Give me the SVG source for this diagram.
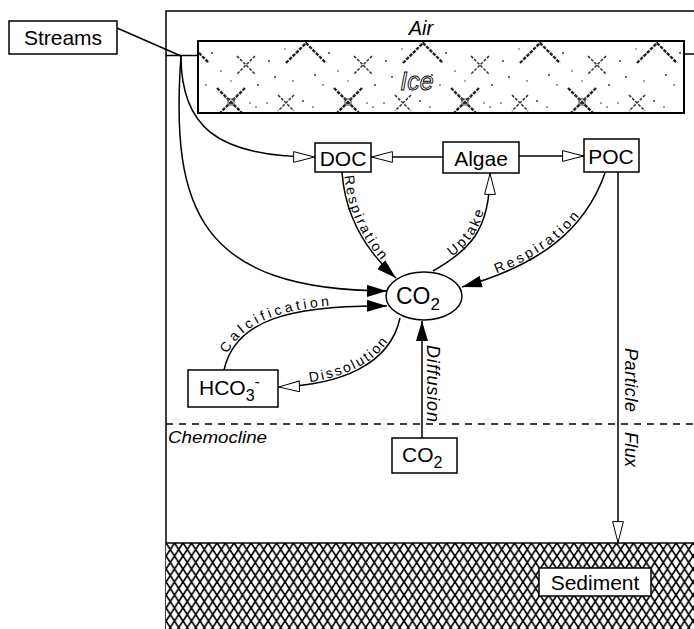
<svg xmlns="http://www.w3.org/2000/svg" width="694" height="629" viewBox="0 0 694 629">
<style>
.box{fill:#fff;stroke:#000;stroke-width:1.5}
.lbl{font-family:"Liberation Sans",Arial,sans-serif;font-size:21px;fill:#000}
.ital{font-family:"Liberation Sans",Arial,sans-serif;font-style:italic;fill:#000}
.ln{fill:none;stroke:#000;stroke-width:1.5}
.ptext{font-family:"Liberation Sans",Arial,sans-serif;font-size:14px;fill:#000}
.xm{stroke:#333;stroke-width:1.5;stroke-dasharray:3 1.4;fill:none}
.xb{stroke:#222;stroke-width:2.4;stroke-dasharray:3.5 1.2;fill:none}
</style>
<defs>
<marker id="filled" viewBox="0 0 20 12" refX="20" refY="6" markerWidth="20" markerHeight="12" markerUnits="userSpaceOnUse" orient="auto">
<path d="M0,0 L20,6 L0,12 Z" fill="#000"/>
</marker>
<marker id="open" viewBox="0 0 22 12" refX="22" refY="6" markerWidth="22" markerHeight="12" markerUnits="userSpaceOnUse" orient="auto">
<path d="M0.6,0.6 L21.4,6 L0.6,11.4 Z" fill="#fff" stroke="#000" stroke-width="1"/>
</marker>
<pattern id="hatch" x="166" y="543" width="8.5" height="13" patternUnits="userSpaceOnUse">
<rect width="8.5" height="13" fill="#fff"/>
<path d="M0,0 L8.5,13 M8.5,0 L0,13" stroke="#000" stroke-width="1.7"/>
</pattern>
<pattern id="ice" x="146" y="41" width="117" height="72" patternUnits="userSpaceOnUse">
<rect width="117" height="72" fill="#fff"/>
<path class="xm" d="M15,54 L31,70 M31,54 L15,70"/>
<path class="xb" d="M23,22 L43,2 L63,22"/>
<path class="xb" d="M71,47 L99,75 M99,47 L71,75"/>
<rect x="82" y="58" width="6" height="6" fill="none" stroke="#444" stroke-width="1"/>
<path class="xm" d="M91,15 L109,33 M109,15 L91,33"/>
<g fill="#222">
<circle cx="6" cy="20" r="0.9"/><circle cx="12" cy="36" r="0.9"/><circle cx="30" cy="40" r="0.8"/>
<circle cx="52" cy="34" r="0.9"/><circle cx="60" cy="44" r="0.8"/><circle cx="40" cy="60" r="0.9"/>
<circle cx="50" cy="66" r="0.8"/><circle cx="66" cy="12" r="0.9"/><circle cx="75" cy="30" r="0.8"/>
<circle cx="112" cy="44" r="0.9"/><circle cx="104" cy="62" r="0.8"/><circle cx="110" cy="66" r="0.8"/>
<circle cx="85" cy="40" r="0.7"/><circle cx="4" cy="62" r="0.8"/><circle cx="22" cy="8" r="0.7"/>
</g>
</pattern>
<path id="pDocResp" d="M342,172 C345,215 365,250 396,278"/>
<path id="pUptake" d="M433,271 C470,250 490,230 490,173"/>
<path id="pPocRespRev" d="M462,287 C540,265 585,230 605,173"/>
<path id="pCalc" d="M224,370 C235,320 290,305 387,306"/>
<path id="pDissRev" d="M278,387 C340,385 390,365 400,318"/>
</defs>
<rect width="694" height="629" fill="#fff"/>

<g id="environment">
<path d="M166,629 L166,11 L694,11" class="ln"/>
<path d="M166,55.5 L198,55.5 M684,54 L694,54" class="ln"/>
<rect x="198" y="41" width="486" height="72" fill="url(#ice)" stroke="#000" stroke-width="2"/>
<text x="421" y="35" class="ital" style="font-size:20px" text-anchor="middle">Air</text>
<text x="417" y="90" class="ital" text-anchor="middle" stroke="#000" stroke-width="0.9" style="font-size:25px;fill:#fff">Ice</text>
<rect x="166" y="543" width="528" height="86" fill="url(#hatch)"/>
<path d="M166,543 L694,543" class="ln"/>
<path d="M166,424 L694,424" fill="none" stroke="#000" stroke-width="1.3" stroke-dasharray="7 6"/>
<text x="168" y="443" class="ital" style="font-size:16px" textLength="99" lengthAdjust="spacingAndGlyphs">Chemocline</text>
</g>

<g id="connectors">
<path d="M117,28 L181,56" class="ln"/>
<path d="M181,56 C181,125 215,157 315,157" class="ln" marker-end="url(#open)"/>
<path d="M181,56 C170,210 200,290 387,291" class="ln" marker-end="url(#filled)"/>
<path d="M443,157 L371,157" class="ln" marker-end="url(#open)"/>
<path d="M519,156 L584,156" class="ln" marker-end="url(#open)"/>
<path d="M342,172 C345,215 365,250 396,278" class="ln" marker-end="url(#filled)"/>
<path d="M433,271 C470,250 490,230 490,173" class="ln" marker-end="url(#open)"/>
<path d="M605,173 C585,230 540,265 462,287" class="ln" marker-end="url(#filled)"/>
<path d="M224,370 C235,320 290,305 387,306" class="ln" marker-end="url(#filled)"/>
<path d="M400,318 C390,365 340,385 278,387" class="ln" marker-end="url(#open)"/>
<path d="M422,438 L422,321" class="ln" marker-end="url(#filled)"/>
<path d="M618,172 L618,543" class="ln" marker-end="url(#open)"/>
<text class="ptext" dy="-2"><textPath href="#pDocResp" startOffset="4" textLength="95" lengthAdjust="spacing">Respiration</textPath></text>
<text class="ptext" dy="-2"><textPath href="#pUptake" startOffset="24" textLength="58" lengthAdjust="spacing">Uptake</textPath></text>
<text class="ptext" dy="-2"><textPath href="#pPocRespRev" startOffset="37" textLength="103" lengthAdjust="spacing">Respiration</textPath></text>
<text class="ptext" dy="-2"><textPath href="#pCalc" startOffset="16" textLength="116" lengthAdjust="spacing">Calcification</textPath></text>
<text class="ptext" dy="-2"><textPath href="#pDissRev" startOffset="32" textLength="92" lengthAdjust="spacing">Dissolution</textPath></text>
<text class="ital" style="font-size:18px" transform="translate(427,345) rotate(90)" textLength="77" lengthAdjust="spacing">Diffusion</text>
<text class="ital" style="font-size:18px" transform="translate(625,348) rotate(90)" textLength="64" lengthAdjust="spacing">Particle</text>
<text class="ital" style="font-size:18px" transform="translate(625,432) rotate(90)" textLength="35" lengthAdjust="spacing">Flux</text>
</g>

<g id="streams">
<rect x="9" y="21" width="108" height="33" class="box"/>
<text x="63" y="45" class="lbl" text-anchor="middle">Streams</text>
</g>
<g id="doc">
<rect x="315" y="143" width="56" height="29" class="box"/>
<text x="343" y="166" class="lbl" text-anchor="middle">DOC</text>
</g>
<g id="algae">
<rect x="443" y="142" width="76" height="31" class="box"/>
<text x="481" y="166" class="lbl" text-anchor="middle">Algae</text>
</g>
<g id="poc">
<rect x="584" y="139" width="55" height="33" class="box"/>
<text x="611" y="164" class="lbl" text-anchor="middle">POC</text>
</g>
<g id="co2-water">
<ellipse cx="424" cy="296" rx="38" ry="24" class="box"/>
<text x="396" y="304" class="lbl" style="font-size:23px">CO<tspan style="font-size:17px" dy="6">2</tspan></text>
</g>
<g id="hco3">
<rect x="188" y="370" width="90" height="37" class="box"/>
<text x="199" y="395" class="lbl">HCO<tspan style="font-size:16px" dy="6">3</tspan><tspan style="font-size:16px" dy="-14">-</tspan></text>
</g>
<g id="co2-deep">
<rect x="392" y="438" width="65" height="35" class="box"/>
<text x="402" y="462" class="lbl">CO<tspan style="font-size:16px" dy="6">2</tspan></text>
</g>
<g id="sediment">
<rect x="539" y="568" width="112" height="28" class="box"/>
<text x="595" y="590" class="lbl" text-anchor="middle">Sediment</text>
</g>
</svg>
